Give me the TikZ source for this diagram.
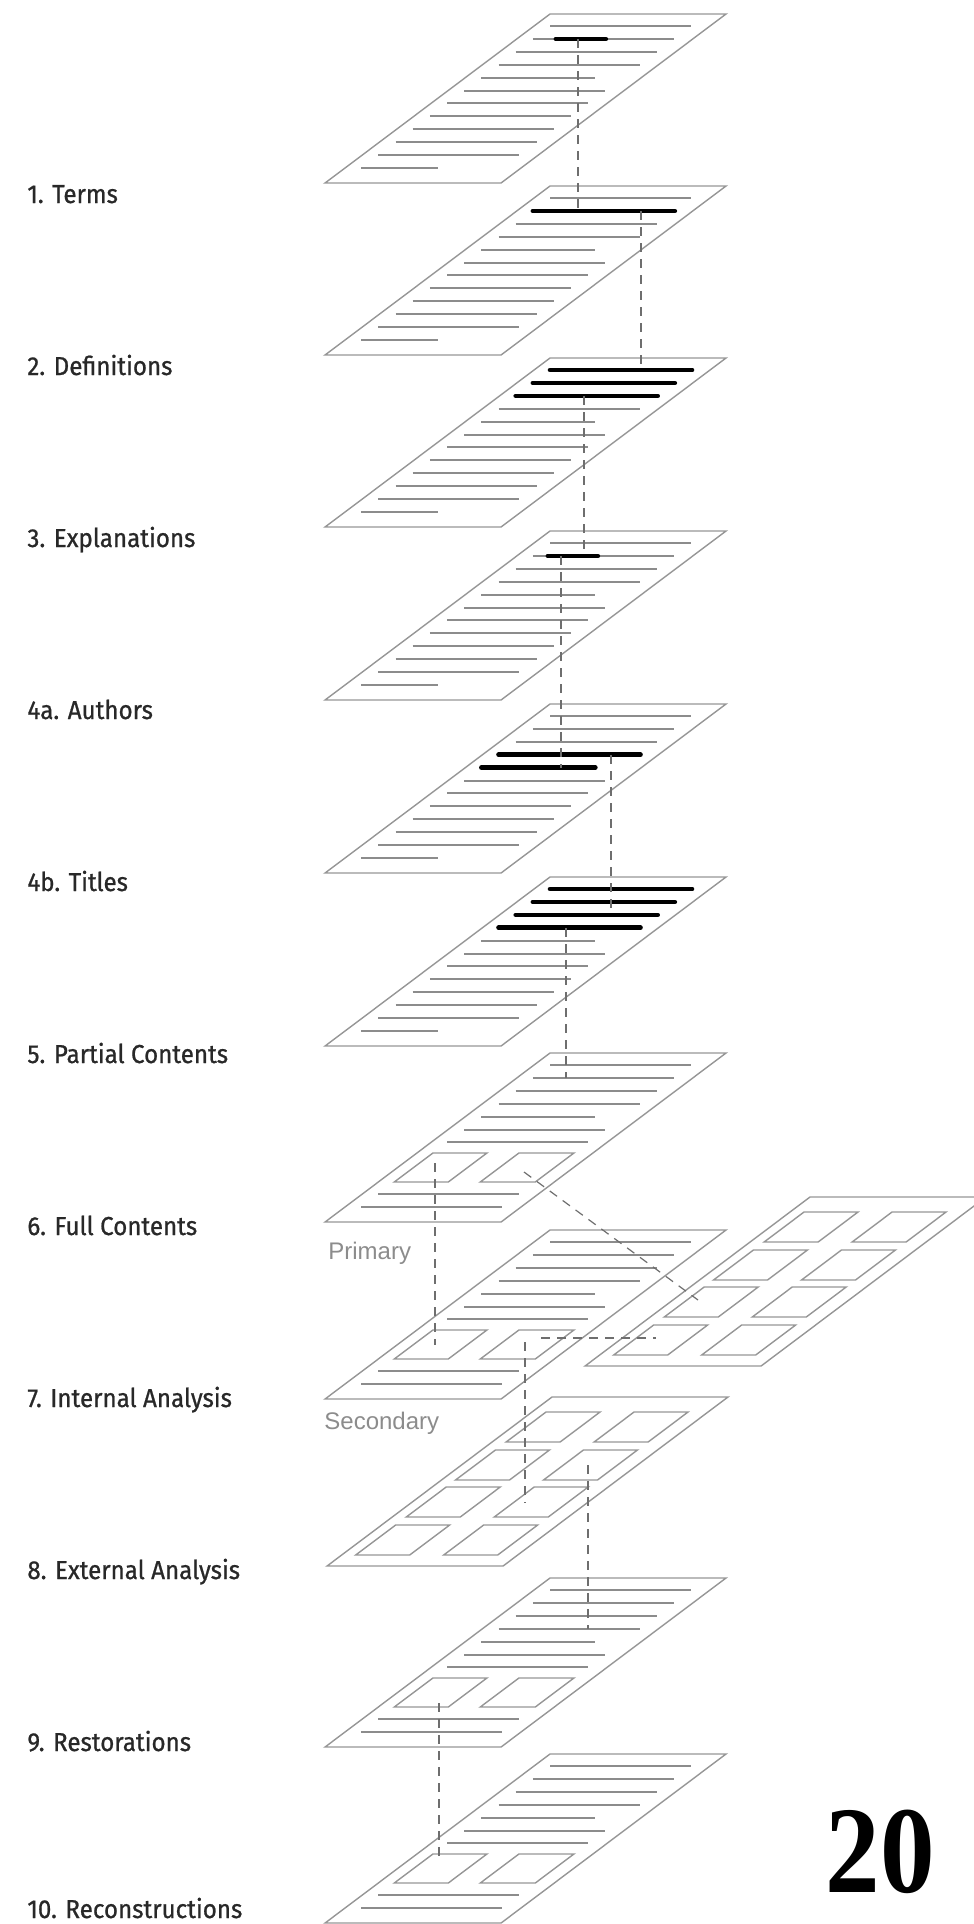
\documentclass[tikz,border=0pt]{standalone}
\usepackage{fontspec}
\newfontfamily\lblfont[FakeStretch=0.93,FakeBold=0.8]{Fira Sans}
\newfontfamily\tagfont{Liberation Sans}
\newfontfamily\numfont[FakeStretch=0.88]{Liberation Serif}

\definecolor{edgegray}{RGB}{150,150,150}
\definecolor{linegray}{RGB}{140,140,140}
\definecolor{dashgray}{RGB}{110,110,110}
\definecolor{labelgray}{RGB}{40,40,40}
\definecolor{taggray}{RGB}{140,140,140}

\tikzset{
  edge/.style={draw=edgegray, line width=0.7pt, line join=miter},
  txt/.style={draw=linegray, line width=1pt},
  hl/.style={draw=black, line width=2.3pt, line cap=round},
  conn/.style={draw=dashgray, line width=0.6pt, dash pattern=on 4.5pt off 3.5pt},
  lbl/.style={anchor=base west, inner sep=0pt, text=labelgray,
              font=\lblfont\fontsize{13}{15}\selectfont},
  tag/.style={anchor=base west, inner sep=0pt, text=taggray,
              font=\tagfont\fontsize{12}{14}\selectfont},
  sheet/.style={shift={#1}, xslant=1.331},
}

% one sheet seen in perspective: local (u,o), u across, o down from the top edge
\newcommand\sheetOutline{\draw[edge] (0,0) -- (176,0) -- (176,169) -- (0,169) -- cycle;}
\newcommand\sheetText{%
  \foreach \o/\e in {12/157,24.9/157,37.8/157,50.7/157,63.6/130,76.5/157,
                     89.4/157,102.3/157,115.2/157,128.1/157,141/157,153.9/93}
    {\draw[txt] (16,\o) -- (\e,\o);}}
\newcommand\sheetTwoBoxes{%
  \foreach \o/\e in {12/157,24.9/157,37.8/157,50.7/157,63.6/130,76.5/157,
                     89.4/157,141/157,153.9/157}
    {\draw[txt] (16,\o) -- (\e,\o);}
  \draw[edge] (16,100) rectangle (70,129);
  \draw[edge] (102,100) rectangle (157,129);}
\newcommand\sheetEightBoxes{%
  \foreach \a/\b in {15/45,53/83,90/120,128/158}{
    \draw[edge] (14,\a) rectangle (68,\b);
    \draw[edge] (102,\a) rectangle (156,\b);}}

\begin{document}
\begin{tikzpicture}[x=0.5pt, y=-0.5pt]
\useasboundingbox (0,0) rectangle (974,1924);
\clip (0,0) rectangle (974,1924);

% stack of sheets
\begin{scope}[sheet={(550,14)}]
  \sheetOutline \sheetText \draw[hl] (39,24.9) -- (89,24.9);
\end{scope}
\begin{scope}[sheet={(550,186)}]
  \sheetOutline \sheetText \draw[hl] (16,24.9) -- (158,24.9);
\end{scope}
\begin{scope}[sheet={(550,358)}]
  \sheetOutline \sheetText
  \foreach \o in {12,24.9,37.8} {\draw[hl] (16,\o) -- (158,\o);}
\end{scope}
\begin{scope}[sheet={(550,531)}]
  \sheetOutline \sheetText \draw[hl] (31,24.9) -- (81,24.9);
\end{scope}
\begin{scope}[sheet={(550,704)}]
  \sheetOutline \sheetText
  \draw[hl] (16,50.7) -- (158,50.7);
  \draw[hl] (16,63.6) -- (130,63.6);
\end{scope}
\begin{scope}[sheet={(550,877)}]
  \sheetOutline \sheetText
  \foreach \o in {12,24.9,37.8,50.7} {\draw[hl] (16,\o) -- (158,\o);}
\end{scope}
\begin{scope}[sheet={(550,1053)}]
  \sheetOutline \sheetTwoBoxes
\end{scope}
\begin{scope}[sheet={(550,1230)}]
  \sheetOutline \sheetTwoBoxes
\end{scope}
\begin{scope}[sheet={(810,1197)}]
  \sheetOutline \sheetEightBoxes
\end{scope}
\begin{scope}[sheet={(552,1397)}]
  \sheetOutline \sheetEightBoxes
\end{scope}
\begin{scope}[sheet={(550,1578)}]
  \sheetOutline \sheetTwoBoxes
\end{scope}
\begin{scope}[sheet={(550,1754)}]
  \sheetOutline \sheetTwoBoxes
\end{scope}

% connector end points
\coordinate (a1) at (578,39);   \coordinate (a2) at (578,211);
\coordinate (b1) at (641,211);  \coordinate (b2) at (641,370);
\coordinate (c1) at (584,396);  \coordinate (c2) at (584,556);
\coordinate (d1) at (561,556);  \coordinate (d2) at (561,768);
\coordinate (e1) at (611,755);  \coordinate (e2) at (611,915);
\coordinate (f1) at (566,928);  \coordinate (f2) at (566,1078);
\coordinate (g1) at (435,1163); \coordinate (g2) at (435,1345);
\coordinate (h1) at (524,1172); \coordinate (h2) at (698,1300);
\coordinate (i1) at (541,1338); \coordinate (i2) at (656,1338);
\coordinate (j1) at (525,1342); \coordinate (j2) at (525,1503);
\coordinate (k1) at (588,1465); \coordinate (k2) at (588,1629);
\coordinate (l1) at (439,1703); \coordinate (l2) at (439,1863);

\foreach \p in {a,b,c,d,e,f,g,h,i,j,k,l} {\draw[conn] (\p1) -- (\p2);}

% level labels
\node[lbl] (t1)  at (27,203)  {1. Terms};
\node[lbl] (t2)  at (27,375)  {2. Definitions};
\node[lbl] (t3)  at (27,547)  {3. Explanations};
\node[lbl] (t4a) at (27,719)  {4a. Authors};
\node[lbl] (t4b) at (27,891)  {4b. Titles};
\node[lbl] (t5)  at (27,1063) {5. Partial Contents};
\node[lbl] (t6)  at (27,1235) {6. Full Contents};
\node[lbl] (t7)  at (27,1407) {7. Internal Analysis};
\node[lbl] (t8)  at (27,1579) {8. External Analysis};
\node[lbl] (t9)  at (27,1751) {9. Restorations};
\node[lbl] (t10) at (27,1918) {10. Reconstructions};

\node[tag] (prim) at (328,1259) {Primary};
\node[tag] (sec)  at (324,1429) {Secondary};

\node[anchor=base, inner sep=0pt, font=\numfont\bfseries\fontsize{62}{62}\selectfont]
  (pg) at (880,1892) {20};
\end{tikzpicture}
\end{document}
